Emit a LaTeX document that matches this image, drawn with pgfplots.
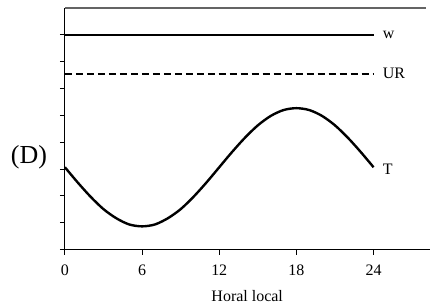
\documentclass[border=0pt]{standalone}
\usepackage{fontspec}
\setmainfont{Liberation Serif}
\usepackage{pgfplots}
\pgfplotsset{compat=1.18}
\definecolor{topgray}{RGB}{100,100,100}
\begin{document}
\begin{tikzpicture}
\begin{axis}[
  scale only axis,
  width=365pt, height=242pt,
  xmin=0, xmax=28.35, ymin=0, ymax=9,
  axis lines*=left,
  axis line style={line width=1pt, black},
  tick align=outside,
  major tick length=5pt,
  tick style={line width=1pt, black},
  xtick={0,6,12,18,24},
  ytick={0,1,2,3,4,5,6,7,8},
  yticklabels={},
  /pgf/number format/assume math mode=true,
  tick label style={font=\fontsize{16}{18}\selectfont},
  xticklabel style={yshift=-7pt},
  xlabel={Horal local},
  xlabel style={font=\fontsize{16}{18}\selectfont, yshift=-8pt},
  clip=false,
]
\addplot[black, line width=2.4pt] coordinates {(0,8) (24,8)};
\addplot[black, line width=1.5pt, dash pattern=on 7pt off 4pt] coordinates {(0,6.55) (24,6.55)};
\addplot[black, line width=2.4pt, smooth] coordinates {
(0,3.07) (1,2.50) (2,1.97) (3,1.51) (4,1.17) (5,0.94) (6,0.87) (7,0.94) (8,1.17)
(9,1.51) (10,1.97) (11,2.50) (12,3.07) (13,3.64) (14,4.17) (15,4.63) (16,4.98)
(17,5.20) (18,5.27) (19,5.20) (20,4.98) (21,4.63) (22,4.17) (23,3.64) (24,3.07)};
\addplot[topgray, line width=1.6pt] coordinates {(0.01,8.99) (28.1,8.99)};
\node[anchor=west, font=\fontsize{16}{18}\selectfont, inner sep=0pt] at ([xshift=9pt]axis cs:24,8) {w};
\node[anchor=west, font=\fontsize{16}{18}\selectfont, inner sep=0pt] at ([xshift=9pt]axis cs:24,6.55) {UR};
\node[anchor=west, font=\fontsize{16}{18}\selectfont, inner sep=0pt] at ([xshift=9pt,yshift=-2pt]axis cs:24,3.07) {T};
\node[font=\fontsize{26}{30}\selectfont, inner sep=0pt] at ([xshift=-36pt]axis cs:0,3.45) {(D)};
\end{axis}
\path[use as bounding box] (-65pt,-52pt) rectangle (365pt,250pt);
\end{tikzpicture}
\end{document}
